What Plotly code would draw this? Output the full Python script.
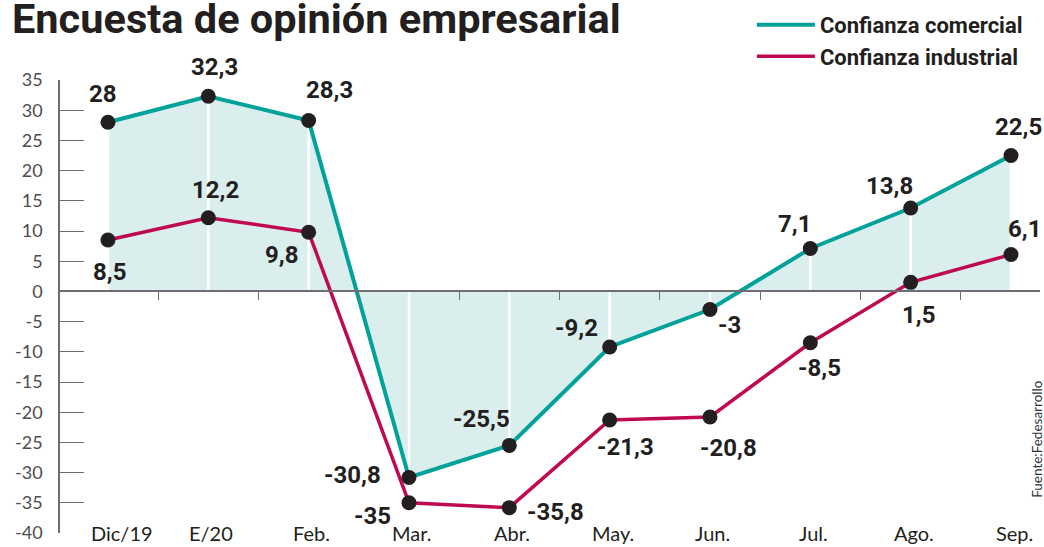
import plotly.graph_objects as go

# ---- data ----
categories = ["Dic/19", "E/20", "Feb.", "Mar.", "Abr.", "May.", "Jun.", "Jul.", "Ago.", "Sep."]
comercial = [28, 32.3, 28.3, -30.8, -25.5, -9.2, -3, 7.1, 13.8, 22.5]
industrial = [8.5, 12.2, 9.8, -35, -35.8, -21.3, -20.8, -8.5, 1.5, 6.1]
y_ticks = [35, 30, 25, 20, 15, 10, 5, 0, -5, -10, -15, -20, -25, -30, -35, -40]
y_tick_text = ["35", "30", "25", "20", "15", "10", "5", "0", "-5", "-10", "-15", "-20", "-25", "-30", "-35", "-40"]

# ---- label placement (pixel offsets from each point: dx right, dy down) ----
com_offsets = [(-5, -28), (6, -29), (21, -30), (-56, -2), (-28, -26), (-33, -19), (20, 15), (-16, -25), (-21, -22), (7, -29)]
ind_offsets = [(2, 32), (7, -28), (-27, 23), (-36, 13), (46, 4), (16, 27), (19, 31), (9, 25), (8, 33), (13, -26)]

TEAL = "#00a29a"
CRIMSON = "#bf0a52"
FILL = "#dbeeee"
DARK = "#231f20"
AXIS = "#6d6e71"

x = list(range(len(categories)))

fig = go.Figure()

# area under commercial confidence
fig.add_trace(go.Scatter(x=x, y=comercial, mode="lines", fill="tozeroy", fillcolor=FILL,
                         line=dict(width=0, color=FILL), showlegend=False, hoverinfo="skip"))

# white vertical guide lines inside the area
gx, gy = [], []
for i, v in zip(x, comercial):
    gx += [i, i, None]
    gy += [0, v, None]
fig.add_trace(go.Scatter(x=gx, y=gy, mode="lines", line=dict(color="white", width=2.5),
                         showlegend=False, hoverinfo="skip"))

fig.add_trace(go.Scatter(x=x, y=comercial, mode="lines", name="Confianza comercial",
                         line=dict(color=TEAL, width=4)))
fig.add_trace(go.Scatter(x=x, y=industrial, mode="lines", name="Confianza industrial",
                         line=dict(color=CRIMSON, width=3.5)))
fig.add_trace(go.Scatter(x=x + x, y=comercial + industrial, mode="markers", showlegend=False,
                         marker=dict(color=DARK, size=15)))

def fmt(v):
    return f"{v:g}".replace(".", ",")

annotations = []
for series, offs in ((comercial, com_offsets), (industrial, ind_offsets)):
    for i, (v, (dx, dy)) in enumerate(zip(series, offs)):
        annotations.append(dict(x=i, y=v, xref="x", yref="y", text=fmt(v), showarrow=False,
                                xshift=dx, yshift=-dy,
                                font=dict(family="Roboto", size=24, color=DARK, weight="bold")))

# category labels along the bottom
for i, c in enumerate(categories):
    annotations.append(dict(x=i, y=-40, xref="x", yref="y", text=c, showarrow=False,
                            xshift=14 if i == 0 else 3, yshift=0, yanchor="middle",
                            font=dict(family="Lato", size=20, color=DARK)))

annotations.append(dict(x=0.997, y=0.208, xref="paper", yref="paper", text="Fuente:Fedesarrollo",
                        textangle=-90, showarrow=False, xanchor="center", yanchor="middle",
                        font=dict(family="Lato", size=13.5, color="#333333")))

fig.update_layout(
    width=1044, height=547,
    margin=dict(l=60, r=4, t=77, b=12),
    paper_bgcolor="white", plot_bgcolor="white",
    title=dict(text="<b>Encuesta de opinión empresarial</b>", x=12 / 1044, xanchor="left",
               xref="container", yref="container", y=1 - 18 / 547, yanchor="middle",
               font=dict(family="Roboto", size=41.5, color=DARK)),
    showlegend=True,
    legend=dict(x=0.706, y=1.168, xanchor="left", yanchor="top", bgcolor="rgba(0,0,0,0)",
                font=dict(family="Roboto", size=22, color=DARK, weight="bold"),
                itemwidth=58, tracegroupgap=0),
    xaxis=dict(range=[-0.478, 9.289], anchor="free", position=40 / 75,
               showline=True, linecolor=AXIS, linewidth=1.5, layer="above traces",
               tickvals=[i + 0.5 for i in x[:-1]], ticks="outside", ticklen=8,
               tickcolor=AXIS, tickwidth=1.2, showticklabels=False,
               showgrid=False, zeroline=False, fixedrange=True),
    yaxis=dict(range=[-40, 35], tickvals=y_ticks, ticktext=y_tick_text,
               showline=True, linecolor=AXIS, linewidth=1.5,
               ticks="inside", ticklen=24, tickcolor=AXIS, tickwidth=1.2,
               ticklabelstandoff=12,
               tickfont=dict(family="Lato", size=18, color="#4d4d4d"),
               showgrid=False, zeroline=False, fixedrange=True),
    annotations=annotations,
)

fig.write_html("out.html", config={"displayModeBar": False},
               post_script="document.body.style.margin='0';document.body.style.overflow='hidden';")
